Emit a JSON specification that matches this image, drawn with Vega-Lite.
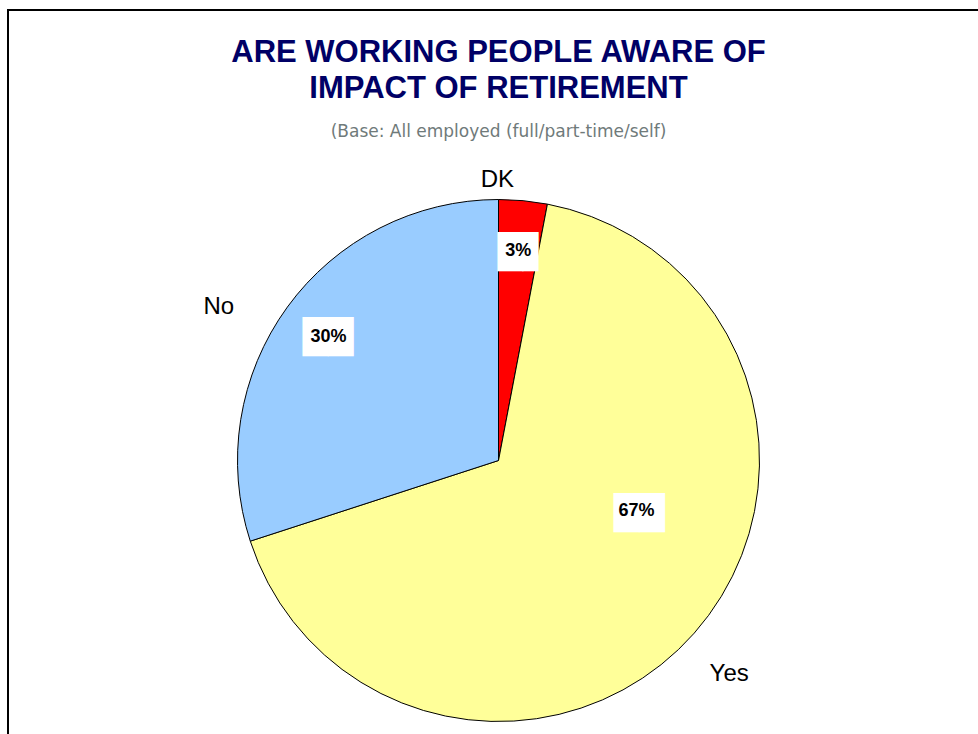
{
  "$schema": "https://vega.github.io/schema/vega-lite/v6.json",
  "autosize": {"type": "none"},
  "padding": {"left": 8, "top": 10, "right": 0, "bottom": 0},
  "width": 981,
  "height": 901,
  "background": "white",
  "view": {"stroke": "black", "strokeWidth": 2, "fill": "white"},
  "config": {"view": {"stroke": "black", "strokeWidth": 2}},
  "title": {
    "text": ["ARE WORKING PEOPLE AWARE OF", "IMPACT OF RETIREMENT"],
    "subtitle": "(Base: All employed (full/part-time/self)",
    "anchor": "middle",
    "frame": "group",
    "orient": "top",
    "offset": -131,
    "font": "Liberation Sans",
    "fontSize": 31,
    "fontWeight": "bold",
    "color": "#000066",
    "lineHeight": 36.5,
    "subtitleFont": "DejaVu Sans",
    "subtitleFontSize": 17,
    "subtitleColor": "#6f7a7a",
    "subtitlePadding": 19
  },
  "data": {
    "values": [
      {"answer": "DK", "value": 3, "label": "3%", "order": 1},
      {"answer": "Yes", "value": 67, "label": "67%", "order": 2},
      {"answer": "No", "value": 30, "label": "30%", "order": 3}
    ]
  },
  "encoding": {
    "theta": {"field": "value", "type": "quantitative", "stack": true},
    "order": {"field": "order", "type": "quantitative"}
  },
  "layer": [
    {
      "mark": {"type": "arc", "outerRadius": 261, "stroke": "black", "strokeWidth": 1},
      "encoding": {
        "color": {
          "field": "answer", "type": "nominal",
          "scale": {"domain": ["DK", "Yes", "No"], "range": ["#FF0000", "#FFFF99", "#99CCFF"]},
          "legend": null
        }
      }
    },
    {
      "mark": {"type": "text", "radius": 210, "font": "DejaVu Sans", "fontSize": 33, "color": "white", "align": "center", "baseline": "middle", "dx": 4.5, "dy": 2},
      "encoding": {"text": {"condition": {"test": "datum.answer === 'DK'", "value": "█▋"}, "value": ""}}
    },
    {
      "mark": {"type": "text", "radius": 211, "font": "DejaVu Sans", "fontSize": 33, "color": "white", "align": "center", "baseline": "middle", "dx": 0, "dy": 2},
      "encoding": {"text": {"condition": {"test": "datum.answer === 'No'", "value": "██"}, "value": ""}}
    },
    {
      "mark": {"type": "text", "radius": 149, "thetaOffset": -0.368, "font": "DejaVu Sans", "fontSize": 33, "color": "white", "align": "center", "baseline": "middle", "dx": 1, "dy": 2},
      "encoding": {"text": {"condition": {"test": "datum.answer === 'Yes'", "value": "██"}, "value": ""}}
    },
    {
      "mark": {"type": "text", "radius": 210, "font": "Liberation Sans", "fontSize": 18, "fontWeight": "bold", "color": "black", "align": "center", "baseline": "middle"},
      "encoding": {"text": {"condition": {"test": "datum.answer !== 'Yes'", "field": "label"}, "value": ""}}
    },
    {
      "mark": {"type": "text", "radius": 147, "thetaOffset": -0.372, "font": "Liberation Sans", "fontSize": 18, "fontWeight": "bold", "color": "black", "align": "center", "baseline": "middle"},
      "encoding": {"text": {"condition": {"test": "datum.answer === 'Yes'", "field": "label"}, "value": ""}}
    },
    {
      "mark": {"type": "text", "radius": 281, "thetaOffset": -0.098, "font": "Liberation Sans", "fontSize": 24, "color": "black", "align": "center", "baseline": "middle"},
      "encoding": {"text": {"condition": {"test": "datum.answer === 'DK'", "field": "answer"}, "value": ""}}
    },
    {
      "mark": {"type": "text", "radius": 319, "thetaOffset": -0.127, "font": "Liberation Sans", "fontSize": 24, "color": "black", "align": "center", "baseline": "middle"},
      "encoding": {"text": {"condition": {"test": "datum.answer === 'No'", "field": "answer"}, "value": ""}}
    },
    {
      "mark": {"type": "text", "radius": 314, "thetaOffset": 0.023, "font": "Liberation Sans", "fontSize": 24, "color": "black", "align": "center", "baseline": "middle"},
      "encoding": {"text": {"condition": {"test": "datum.answer === 'Yes'", "field": "answer"}, "value": ""}}
    }
  ]
}
